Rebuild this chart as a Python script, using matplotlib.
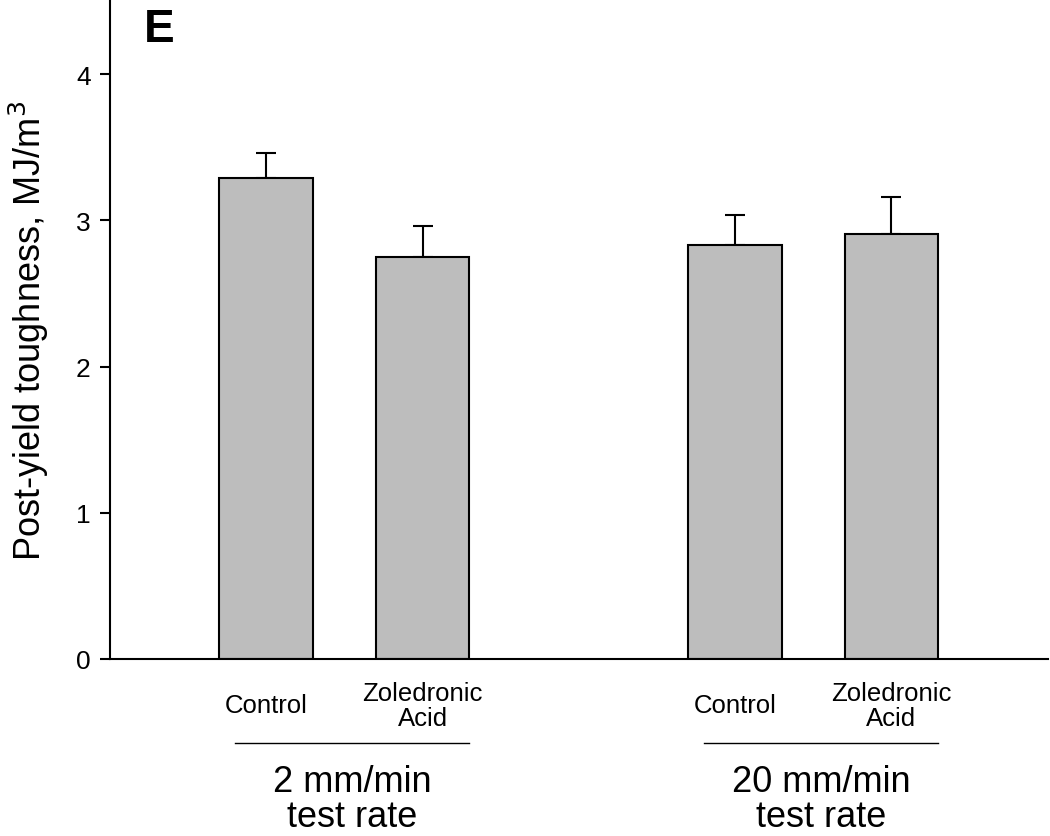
"""Post-yield toughness by treatment and test rate (panel E)."""

import matplotlib
matplotlib.use("Agg")
import matplotlib.pyplot as plt
from matplotlib.lines import Line2D
from matplotlib.transforms import blended_transform_factory

plt.rcParams["font.family"] = ["Liberation Sans", "DejaVu Sans"]

# data
treatments = ["Control", "Zoledronic\nAcid", "Control", "Zoledronic\nAcid"]
group_labels = ["2 mm/min\ntest rate", "20 mm/min\ntest rate"]
positions = [1, 2, 4, 5]
group_members = [[1, 2], [4, 5]]
means = [3.29, 2.75, 2.83, 2.91]
sem = [0.17, 0.21, 0.21, 0.25]

BAR_COLOR = "#bdbdbd"
LW = 1.5

fig = plt.figure(figsize=(10.5, 8.37), dpi=100)
ax = fig.add_axes([0.1048, 0.2115, 0.893, 0.786])

ax.bar(positions, means, width=0.6, color=BAR_COLOR, edgecolor="black",
       linewidth=LW, zorder=2)
ax.errorbar(positions, means, yerr=[[0] * len(sem), sem], fmt="none",
            ecolor="black", elinewidth=LW, capsize=7, capthick=LW, zorder=1)

ax.set_xlim(0, 6.0)
ax.set_ylim(0, 4.5)
ax.set_yticks([0, 1, 2, 3, 4])
ax.tick_params(axis="y", direction="out", length=7, width=LW, labelsize=19, pad=7)
ax.set_xticks([])
for side in ("top", "right"):
    ax.spines[side].set_visible(False)
for side in ("left", "bottom"):
    ax.spines[side].set_linewidth(LW)

ax.set_ylabel("Post-yield toughness, MJ/m$^3$", fontsize=26, labelpad=18)

trans = blended_transform_factory(ax.transData, ax.transAxes)
for x, lab in zip(positions, treatments):
    ax.text(x, -0.070, lab, transform=trans, ha="center", va="center",
            fontsize=18.5, linespacing=1.05, clip_on=False)

for members, lab in zip(group_members, group_labels):
    xc = sum(members) / len(members) + 0.05
    ax.add_line(Line2D([xc - 0.75, xc + 0.75], [-0.128, -0.128], transform=trans,
                       color="black", lw=1.0, clip_on=False))
    ax.text(xc, -0.2128, lab, transform=trans, ha="center", va="center",
            fontsize=26, linespacing=1.0, clip_on=False)

fig.text(0.152, 0.964, "E", fontsize=33, fontweight="bold", ha="center", va="center")

fig.savefig("out.png", dpi=100)
